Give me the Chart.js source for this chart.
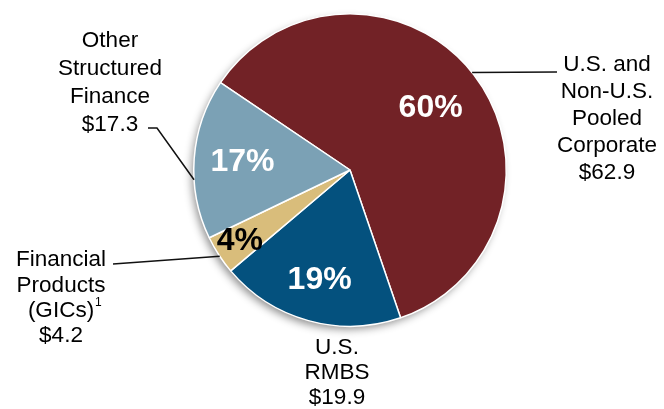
<!DOCTYPE html>
<html lang="en">
<head>
    <meta charset="UTF-8">
    <title>Pooled exposure</title>
    <style>
        body { margin: 0; background: #fff; }
        #wrap { width: 664px; height: 409px; position: relative; }
    </style>
</head>
<body>
    <div id="wrap">
        <canvas id="myChart"></canvas>
    </div>

    <script src="https://cdn.jsdelivr.net/npm/chart.js"></script>

    <script>
        // data ($ amounts)
        const categories = ['U.S. and Non-U.S. Pooled Corporate', 'U.S. RMBS', 'Financial Products (GICs)', 'Other Structured Finance'];
        const amounts = [62.9, 19.9, 4.2, 17.3];
        const labelLines = [
            ['U.S. and', 'Non-U.S.', 'Pooled', 'Corporate', '$62.9'],
            ['U.S.', 'RMBS', '$19.9'],
            ['Financial', 'Products', '(GICs)^1', '$4.2'],
            ['Other', 'Structured', 'Finance', '$17.3']
        ];

        const colors = ['#722226', '#04517e', '#d9bd7b', '#7ba1b5'];
        const pctColors = ['#fff', '#fff', '#000', '#fff'];
        // how far out (fraction of radius) the % sits in each slice
        const pctRadius = [0.65, 0.73, 0.84, 0.69];

        // callout text blocks + leader lines (edge angle in deg clockwise from top)
        const callouts = [
            { x: 607, y: 65, lh: 27, edge: 51.4, path: [[557, 72]] },
            { x: 337, y: 348, lh: 25, edge: null, path: [] },
            { x: 61, y: 260, lh: 25.3, edge: 236.5, path: [[113, 264]] },
            { x: 110, y: 41, lh: 27.8, edge: 266.4, path: [[157, 128], [148, 128]] }
        ];

        const total = amounts.reduce((a, b) => a + b, 0);

        const shadowPlugin = {
            id: 'pieShadow',
            beforeDatasetsDraw(chart) {
                const arc = chart.getDatasetMeta(0).data[0];
                const { x, y, outerRadius } = arc.getProps(['x', 'y', 'outerRadius'], true);
                const c = chart.ctx;
                c.save();
                c.shadowColor = 'rgba(0,0,0,0.45)';
                c.shadowBlur = 9;
                c.shadowOffsetX = -3;
                c.shadowOffsetY = 4;
                c.fillStyle = '#888';
                c.beginPath();
                c.arc(x, y, outerRadius - 1, 0, Math.PI * 2);
                c.fill();
                c.restore();
            }
        };

        const labelPlugin = {
            id: 'pieLabels',
            afterDatasetsDraw(chart) {
                const c = chart.ctx;
                const arcs = chart.getDatasetMeta(0).data;
                c.save();
                c.textAlign = 'center';
                c.textBaseline = 'middle';

                arcs.forEach((arc, i) => {
                    const p = arc.getProps(['x', 'y', 'startAngle', 'endAngle', 'outerRadius'], true);
                    const mid = (p.startAngle + p.endAngle) / 2;
                    const r = p.outerRadius * pctRadius[i];
                    c.font = 'bold 32px "Liberation Sans", Arial, sans-serif';
                    c.fillStyle = pctColors[i];
                    c.fillText(Math.round(amounts[i] / total * 100) + '%', p.x + Math.cos(mid) * r, p.y + Math.sin(mid) * r);

                    // leader line
                    const co = callouts[i];
                    if (co.edge !== null) {
                        const a = (co.edge - 90) * Math.PI / 180;
                        c.beginPath();
                        c.moveTo(p.x + Math.cos(a) * p.outerRadius, p.y + Math.sin(a) * p.outerRadius);
                        co.path.forEach(pt => c.lineTo(pt[0], pt[1]));
                        c.strokeStyle = '#111';
                        c.lineWidth = 1.5;
                        c.stroke();
                    }

                    // category text
                    c.fillStyle = '#000';
                    labelLines[i].forEach((line, j) => {
                        const ly = co.y + j * co.lh;
                        const parts = line.split('^');
                        c.font = '22.5px "Liberation Sans", Arial, sans-serif';
                        if (parts.length > 1) {
                            const w = c.measureText(parts[0]).width;
                            c.fillText(parts[0], co.x, ly);
                            c.font = '12px "Liberation Sans", Arial, sans-serif';
                            c.textAlign = 'left';
                            c.fillText(parts[1], co.x + w / 2 + 1, ly - 8);
                            c.textAlign = 'center';
                        } else {
                            c.fillText(line, co.x, ly);
                        }
                    });
                });
                c.restore();
            }
        };

        new Chart(document.getElementById('myChart'), {
            type: 'pie',
            data: {
                labels: categories,
                datasets: [{
                    data: amounts,
                    backgroundColor: colors,
                    borderColor: '#fff',
                    borderWidth: 1.5
                }]
            },
            options: {
                responsive: true,
                maintainAspectRatio: false,
                animation: false,
                rotation: -56,
                layout: { padding: { left: 193, right: 157, top: 13, bottom: 82 } },
                plugins: {
                    legend: { display: false },
                    tooltip: { enabled: false }
                }
            },
            plugins: [shadowPlugin, labelPlugin]
        });
    </script>
</body>
</html>
